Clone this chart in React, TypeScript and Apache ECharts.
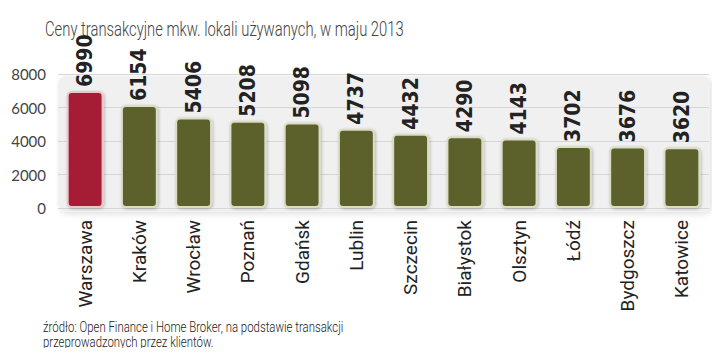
import React, { useEffect, useRef } from "react";
import * as echarts from "echarts";

const titleText = "Ceny transakcyjne mkw. lokali używanych, w maju 2013";
const sourceLines = [
  "źródło: Open Finance i Home Broker, na podstawie transakcji",
  "przeprowadzonych przez klientów.",
];
const cities = [
  "Warszawa", "Kraków", "Wrocław", "Poznań", "Gdańsk", "Lublin",
  "Szczecin", "Białystok", "Olsztyn", "Łódź", "Bydgoszcz", "Katowice",
];
const prices = [6990, 6154, 5406, 5208, 5098, 4737, 4432, 4290, 4143, 3702, 3676, 3620];
const highlightCity = "Warszawa";

export default function App() {
  const ref = useRef<HTMLDivElement>(null);
  useEffect(() => {
    if (!ref.current) return;
    const chart = echarts.init(ref.current, undefined, { renderer: "svg" });
    const data = prices.map((v, i) => {
      const hi = cities[i] === highlightCity;
      return {
        value: v,
        itemStyle: {
          color: hi ? "#a51c35" : "#5b6129",
          borderColor: hi ? "#ecc6cc" : "#dadcc4",
          borderWidth: 2,
          borderRadius: 4,
          shadowColor: "rgba(0,0,0,0.25)",
          shadowBlur: 3,
          shadowOffsetX: 1,
          shadowOffsetY: 1,
        },
      };
    });
    chart.setOption({
      animation: false,
      backgroundColor: "#ffffff",
      graphic: [
        {
          type: "rect",
          left: 58,
          top: 76,
          shape: { width: 652, height: 136, r: 8 },
          style: {
            fill: "#f0f0f0",
            shadowColor: "rgba(0,0,0,0.12)",
            shadowBlur: 6,
            shadowOffsetX: 2,
            shadowOffsetY: 2,
          },
          z: -10,
          silent: true,
        },
        {
          type: "text",
          x: 45,
          y: 19,
          scaleX: 0.74,
          style: {
            text: titleText,
            fontFamily: "Roboto",
            fontWeight: 300,
            fontSize: 20,
            fill: "#444",
          },
        },
        {
          type: "text",
          x: 43,
          y: 319,
          scaleX: 0.76,
          style: {
            text: sourceLines.join("\n"),
            fontFamily: "Roboto",
            fontWeight: 300,
            fontSize: 15,
            lineHeight: 15,
            fill: "#222",
          },
        },
      ],
      grid: { left: 58, right: 11, top: 74, bottom: 148, containLabel: false },
      xAxis: {
        type: "category",
        data: cities,
        axisLine: { show: false },
        axisTick: { show: false },
        axisLabel: {
          rotate: 90,
          interval: 0,
          margin: 12,
          fontFamily: "Roboto",
          fontWeight: 400,
          fontSize: 19,
          color: "#222",
        },
      },
      yAxis: {
        type: "value",
        min: 0,
        max: 8000,
        interval: 2000,
        axisLine: { show: false },
        axisTick: { show: false },
        splitLine: { show: true, lineStyle: { color: "#d6d6d6", width: 1 } },
        axisLabel: {
          margin: 12,
          formatter: (v: number) => String(v),
          fontFamily: "Lato",
          fontSize: 15,
          color: "#444",
        },
      },
      series: [
        {
          type: "bar",
          data,
          barWidth: "68%",
          label: {
            show: true,
            position: "top",
            rotate: 90,
            align: "left",
            verticalAlign: "middle",
            distance: 4,
            fontFamily: "DejaVu Sans Condensed",
            fontWeight: "bold",
            fontSize: 21,
            color: "#222",
          },
        },
      ],
    });
    return () => chart.dispose();
  }, []);
  return <div ref={ref} style={{ width: 720, height: 356, margin: -8 }} />;
}
